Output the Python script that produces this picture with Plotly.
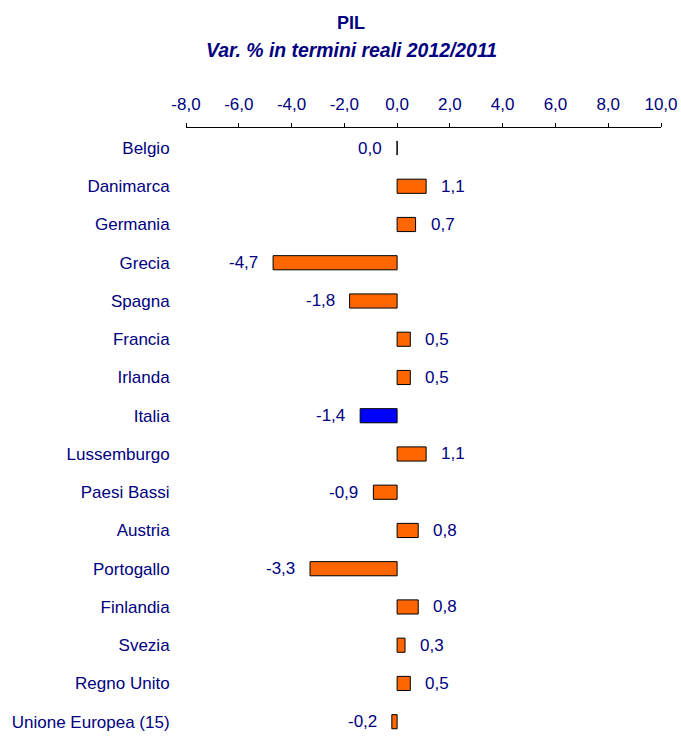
import plotly.graph_objects as go

categories = ["Belgio", "Danimarca", "Germania", "Grecia", "Spagna", "Francia",
              "Irlanda", "Italia", "Lussemburgo", "Paesi Bassi", "Austria",
              "Portogallo", "Finlandia", "Svezia", "Regno Unito", "Unione Europea (15)"]
values = [0.0, 1.1, 0.7, -4.7, -1.8, 0.5, 0.5, -1.4, 1.1, -0.9, 0.8, -3.3, 0.8, 0.3, 0.5, -0.2]
highlight = "Italia"
x_ticks = [-8, -6, -4, -2, 0, 2, 4, 6, 8, 10]
x_ticktext = ["-8,0", "-6,0", "-4,0", "-2,0", "0,0", "2,0", "4,0", "6,0", "8,0", "10,0"]

ORANGE = "#FF6600"
BLUE = "#0000FF"
NAVY = "#000080"
FONT = "Liberation Sans, Arial, sans-serif"

colors = [BLUE if c == highlight else ORANGE for c in categories]
labels = [f"{v:.1f}".replace(".", ",") for v in values]

fig = go.Figure()
fig.add_trace(go.Bar(
    x=values, y=categories, orientation="h",
    marker=dict(color=colors, line=dict(color="black", width=1)),
    width=0.37, hoverinfo="skip", showlegend=False,
))

for c, v, t in zip(categories, values, labels):
    pos = v > 0
    fig.add_annotation(
        x=v, y=c, text=t, showarrow=False,
        xanchor="left" if pos else "right", yanchor="middle",
        xshift=13 if pos else -13,
        font=dict(family=FONT, size=17, color=NAVY),
    )

n = len(categories)
y_range = [n - 1 + 0.426, -0.523]
xmin, xmax = -8, 10

FW, FH = 681, 738
PL, PR, PT, PB = 186, 661, 128, 738
PW, PH = PR - PL, PB - PT

def px(xp):
    return (xp - PL) / PW

def py(yp):
    return (PB - yp) / PH

fig.add_annotation(xref="paper", yref="paper", x=px(351), y=py(23),
                   text="<b>PIL</b>", showarrow=False, xanchor="center", yanchor="middle",
                   font=dict(family=FONT, size=18, color=NAVY))
fig.add_annotation(xref="paper", yref="paper", x=px(351), y=py(50),
                   text="<b><i>Var. % in termini reali 2012/2011</i></b>", showarrow=False,
                   xanchor="center", yanchor="middle",
                   font=dict(family=FONT, size=19.4, color=NAVY))

fig.update_layout(
    width=FW, height=FH,
    margin=dict(l=PL, r=FW - PR, t=PT, b=FH - PB, autoexpand=False),
    paper_bgcolor="white", plot_bgcolor="white",
    font=dict(family=FONT, size=17, color=NAVY),
    xaxis=dict(
        side="top", range=[xmin, xmax], tickvals=x_ticks, ticktext=x_ticktext,
        showgrid=False, zeroline=False, showline=True, linecolor="black", linewidth=1,
        ticks="outside", ticklen=4, tickcolor="black", ticklabelstandoff=6,
        automargin=False,
        tickfont=dict(family=FONT, size=17, color=NAVY), fixedrange=True,
    ),
    yaxis=dict(
        type="category", categoryorder="array", categoryarray=categories,
        range=y_range, showgrid=False, zeroline=False, showline=False,
        ticks="outside", ticklen=12, tickcolor="rgba(0,0,0,0)", automargin=False,
        tickfont=dict(family=FONT, size=17, color=NAVY), fixedrange=True,
    ),
    yaxis2=dict(
        overlaying="y", anchor="free", position=(0 - xmin) / (xmax - xmin), side="left",
        range=y_range, tickvals=[i + 0.5 for i in range(n - 1)],
        showticklabels=False, showgrid=False, zeroline=False, automargin=False,
        showline=True, linecolor="black", linewidth=1,
        ticks="outside", ticklen=5, tickcolor="black", fixedrange=True,
    ),
)

fig.write_html(
    "out.html",
    config={"displayModeBar": False},
    post_script="document.body.style.margin='0';document.body.style.overflow='hidden';",
)
